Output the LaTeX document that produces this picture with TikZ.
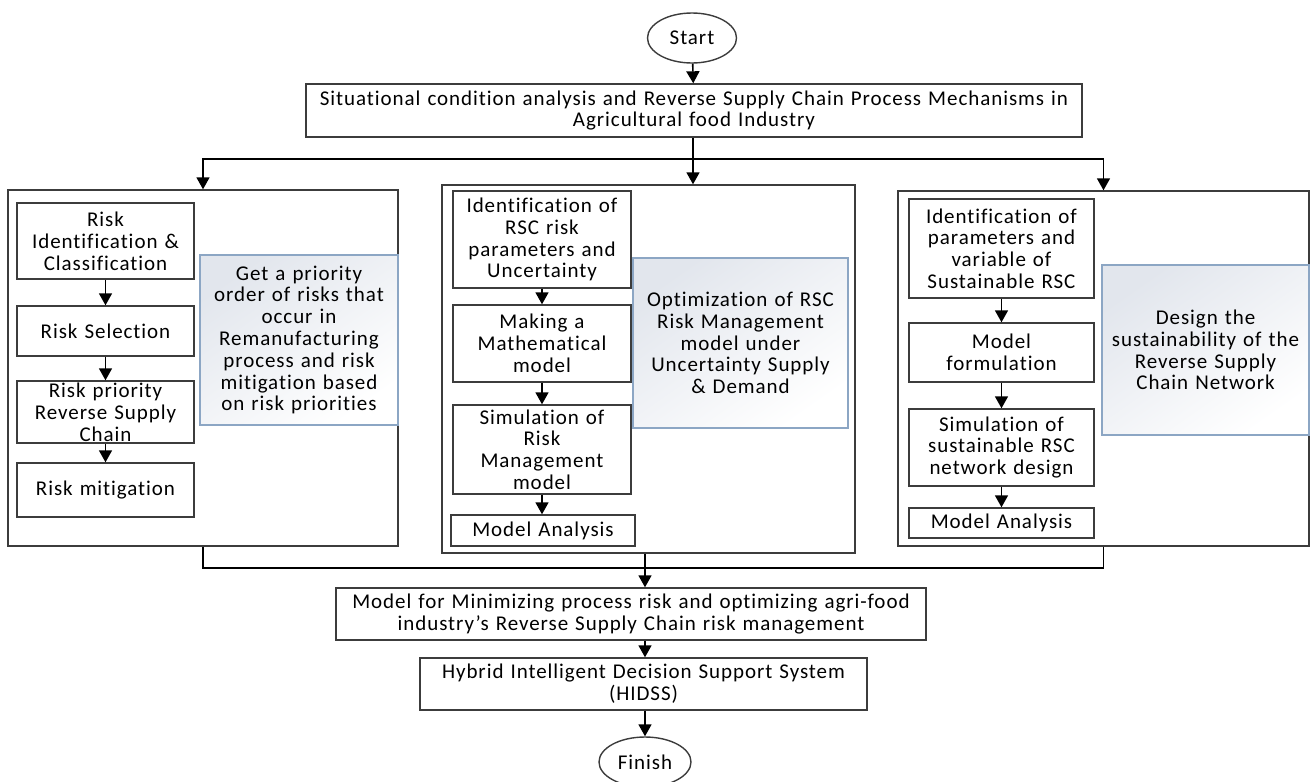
\documentclass[tikz,border=0pt]{standalone}
\usepackage{fontspec}
\setmainfont{Carlito}[LetterSpace=4.5, Ligatures={NoCommon}]
\usetikzlibrary{arrows.meta,shapes.geometric}

\definecolor{frame}{RGB}{60,60,60}
\definecolor{notefill}{RGB}{226,230,237}
\definecolor{noteline}{RGB}{140,166,196}

\tikzset{
  txt/.style={font=\fontsize{21}{21.8}\selectfont},
  stepbox/.style={draw=frame, line width=1.4pt, fill=white, align=center,
    inner sep=1pt, txt},
  panel/.style={draw=frame, line width=1.4pt, inner sep=0pt},
  notebox/.style={draw=noteline, line width=1.2pt, top color=notefill,
    bottom color=white, shading angle=35, align=center, inner sep=1pt, txt},
  terminal/.style={draw=frame, line width=1.4pt, ellipse, inner sep=0pt, txt},
  link/.style={draw=black, line width=1.6pt},
  arr/.style={link, -{Triangle[width=13pt,length=12pt]}},
}

\newcommand{\bx}[6]{% name, cx, cy, w, h, text
  \node[stepbox, minimum width=#4pt, minimum height=#5pt, text width=#4pt-4pt]
    (#1) at (#2,#3) {#6};}

\begin{document}
\begin{tikzpicture}[x=1pt,y=-1pt]
\useasboundingbox (0,0) rectangle (1310,782);
\clip (0,0) rectangle (1310,782);

% start and first analysis step
\node[terminal, minimum width=89pt, minimum height=50pt] (start) at (692,38) {Start};
\bx{top}{694}{110.5}{776}{53}{Situational condition analysis and Reverse Supply Chain Process Mechanisms in\\ Agricultural food Industry}

% three work streams
\node[panel, minimum width=390pt, minimum height=356pt] (lp) at (203,368) {};
\node[panel, minimum width=413pt, minimum height=368pt] (cp) at (648.5,369) {};
\node[panel, minimum width=411pt, minimum height=355pt] (rp) at (1103.5,368.5) {};

% risk stream
\bx{l1}{105.5}{241}{177}{76}{Risk\\ Identification \&\\ Classification}
\bx{l2}{105.5}{331}{177}{50}{Risk Selection}
\bx{l3}{105.5}{412}{177}{62}{Risk priority\\ Reverse Supply\\ Chain}
\bx{l4}{105.5}{490}{177}{54}{Risk mitigation}
\node[notebox, minimum width=198pt, minimum height=170pt, text width=194pt] (lg) at (299,340)
  {Get a priority\\ order of risks that\\ occur in\\ Remanufacturing\\ process and risk\\ mitigation based\\ on risk priorities};

% optimization stream
\bx{c1}{542}{239.5}{178}{97}{Identification of\\ RSC risk\\ parameters and\\ Uncertainty}
\bx{c2}{542}{343.5}{178}{77}{Making a\\ Mathematical\\ model}
\bx{c3}{542}{449.5}{178}{89}{Simulation of\\ Risk\\ Management\\ model}
\bx{c4}{543}{530.5}{184}{31}{Model Analysis}
\node[notebox, minimum width=215pt, minimum height=170pt, text width=211pt] (cg) at (740.5,343)
  {Optimization of RSC\\ Risk Management\\ model under\\ Uncertainty Supply\\ \& Demand};

% network design stream
\bx{r1}{1001.5}{248.5}{185}{99}{Identification of\\ parameters and\\ variable of\\ Sustainable RSC}
\bx{r2}{1001.5}{352.5}{185}{59}{Model\\ formulation}
\bx{r3}{1001.5}{447.5}{185}{77}{Simulation of\\ sustainable RSC\\ network design}
\bx{r4}{1001.5}{523}{185}{30}{Model Analysis}
\node[notebox, minimum width=207pt, minimum height=170pt, text width=203pt] (rg) at (1205.5,350)
  {Design the\\ sustainability of the\\ Reverse Supply\\ Chain Network};

% integration and decision support
\bx{b1}{631}{614}{590}{52}{Model for Minimizing process risk and optimizing agri-food\\ industry’s Reverse Supply Chain risk management}
\bx{b2}{643.5}{684}{447}{52}{Hybrid Intelligent Decision Support System\\ (HIDSS)}
\node[terminal, minimum width=92pt, minimum height=50pt] (finish) at (645,762) {Finish};

% connectors
\coordinate (split) at (693,159);
\coordinate (merge) at (645,568);
\draw[arr] (start) -- (top);
\draw[arr] (top.south -| split) -- (cp.north -| split);
\draw[arr] (split) -| (lp.north);
\draw[arr] (split) -| (rp.north);

\draw[arr] (l1) -- (l2);
\draw[arr] (l2) -- (l3);
\draw[arr] (l3) -- (l4);
\draw[arr] (c1) -- (c2);
\draw[arr] (c2) -- (c3);
\draw[arr] (c3.south) -- (c4.north -| c3.south);
\draw[arr] (r1) -- (r2);
\draw[arr] (r2) -- (r3);
\draw[arr] (r3) -- (r4);

\draw[link] (lp.south) |- (merge);
\draw[link] (rp.south) |- (merge);
\draw[arr] (cp.south -| merge) -- (b1.north -| merge);
\draw[arr] (b1.south -| merge) -- (b2.north -| merge);
\draw[arr] (b2.south -| finish) -- (finish);
\end{tikzpicture}
\end{document}
